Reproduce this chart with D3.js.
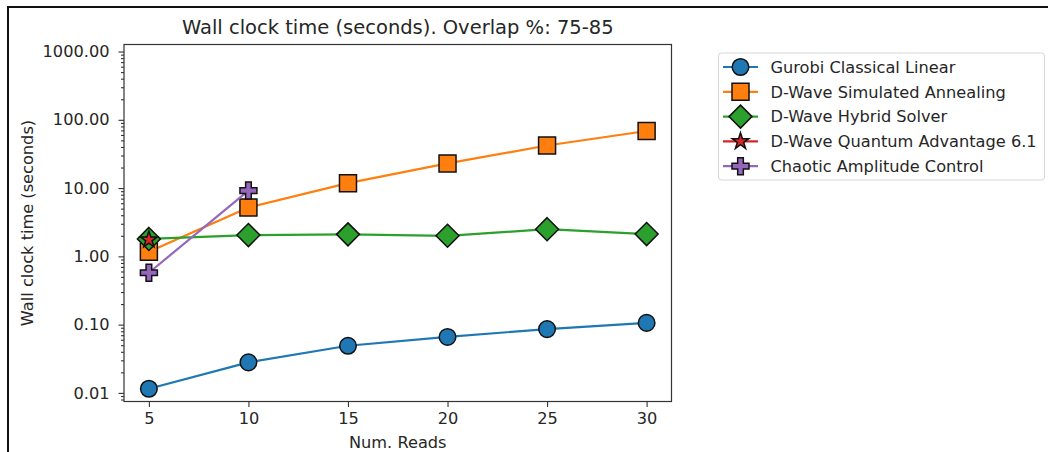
<!DOCTYPE html>
<html>
<head>
<meta charset="utf-8">
<script src="https://cdn.jsdelivr.net/npm/d3@7"></script>
<style>
  html, body { margin: 0; padding: 0; background: #fff; }
  svg { display: block; }
  text { font-family: "DejaVu Sans", sans-serif; fill: #262626; }
</style>
</head>
<body>
<svg id="chart" width="1048" height="452"></svg>
<script>
// Number of reads on the x axis
const reads = [5, 10, 15, 20, 25, 30];

// Wall clock time in seconds for each solver
const gurobi = [0.0115, 0.028, 0.049, 0.066, 0.086, 0.106];
const simAnnealing = [1.17, 5.2, 11.8, 23.0, 42.0, 68.5];
const hybrid = [1.8, 2.05, 2.1, 2.0, 2.5, 2.12];
const quantumReads = [5];
const quantum = [1.75];
const cacReads = [5, 10];
const cac = [0.575, 9.2];

const seriesNames = [
  "Gurobi Classical Linear",
  "D-Wave Simulated Annealing",
  "D-Wave Hybrid Solver",
  "D-Wave Quantum Advantage 6.1",
  "Chaotic Amplitude Control"
];
const seriesColors = ["#1f77b4", "#ff7f0e", "#2ca02c", "#d62728", "#9467bd"];

const xTicks = [5, 10, 15, 20, 25, 30];
const yTicks = [0.01, 0.1, 1, 10, 100, 1000];

const titleText = "Wall clock time (seconds). Overlap %: 75-85";
const xLabel = "Num. Reads";
const yLabel = "Wall clock time (seconds)";

const svg = d3.select("#chart");

// page frame
svg.append("path")
  .attr("d", "M8,452 V7 H1048")
  .attr("fill", "none")
  .attr("stroke", "#111")
  .attr("stroke-width", 2);

const plot = { left: 124, right: 671.5, top: 44.5, bottom: 401.5 };

const x = d3.scaleLinear().domain([3.75, 31.25]).range([plot.left, plot.right]);
const y = d3.scaleLog().domain([Math.pow(10, -2.126), Math.pow(10, 3.103)]).range([plot.bottom, plot.top]);

// minor ticks at 2..9 within each decade
const minorTicks = [];
for (let e = -3; e <= 3; e++) {
  for (let m = 2; m <= 9; m++) {
    const v = m * Math.pow(10, e);
    if (v >= y.domain()[0] && v <= y.domain()[1]) minorTicks.push(v);
  }
}

const axisColor = "#333";
const tickFont = 16.2;

// y axis
const yMinor = svg.append("g")
  .attr("transform", `translate(${plot.left},0)`)
  .call(d3.axisLeft(y).tickValues(minorTicks).tickSize(3).tickFormat(""));
const yMajor = svg.append("g")
  .attr("transform", `translate(${plot.left},0)`)
  .call(d3.axisLeft(y).tickValues(yTicks).tickSize(5.5).tickPadding(9)
    .tickFormat(d => d3.format(".2f")(d)));

// x axis
const xAxis = svg.append("g")
  .attr("transform", `translate(0,${plot.bottom})`)
  .call(d3.axisBottom(x).tickValues(xTicks).tickSize(5.5).tickPadding(5));

[yMinor, yMajor, xAxis].forEach(g => {
  g.select(".domain").remove();
  g.selectAll(".tick line").attr("stroke", axisColor).attr("stroke-width", 1.1);
  g.selectAll(".tick text")
    .attr("font-size", tickFont)
    .attr("font-family", "DejaVu Sans, sans-serif")
    .attr("fill", "#262626");
});

// plot frame
svg.append("rect")
  .attr("x", plot.left).attr("y", plot.top)
  .attr("width", plot.right - plot.left).attr("height", plot.bottom - plot.top)
  .attr("fill", "none").attr("stroke", axisColor).attr("stroke-width", 1.2);

// titles
svg.append("text")
  .attr("x", (plot.left + plot.right) / 2).attr("y", 34)
  .attr("text-anchor", "middle").attr("font-size", 19.5)
  .text(titleText);
svg.append("text")
  .attr("x", (plot.left + plot.right) / 2).attr("y", 448)
  .attr("text-anchor", "middle").attr("font-size", tickFont)
  .text(xLabel);
svg.append("text")
  .attr("transform", `translate(33,${(plot.top + plot.bottom) / 2}) rotate(-90)`)
  .attr("text-anchor", "middle").attr("font-size", tickFont)
  .text(yLabel);

// marker shapes
const diamondPath = (s) => `M0,${-s} L${s},0 L0,${s} L${-s},0 Z`;
const markers = [
  d3.symbol(d3.symbolCircle, 216)(),
  d3.symbol(d3.symbolSquare, 289)(),
  diamondPath(11.5),
  d3.symbol(d3.symbolStar, 85)(),
  d3.symbol(d3.symbolCross, 160)()
];

const seriesData = [
  { xs: reads, ys: gurobi },
  { xs: reads, ys: simAnnealing },
  { xs: reads, ys: hybrid },
  { xs: quantumReads, ys: quantum },
  { xs: cacReads, ys: cac }
];

const line = d3.line().x(d => x(d[0])).y(d => y(d[1]));

const plotArea = svg.append("g");
seriesData.forEach((s, i) => {
  const pts = s.xs.map((v, j) => [v, s.ys[j]]);
  const g = plotArea.append("g");
  g.append("path")
    .attr("d", line(pts))
    .attr("fill", "none")
    .attr("stroke", seriesColors[i])
    .attr("stroke-width", 2.2)
    .attr("stroke-linejoin", "round");
  g.selectAll("path.mk").data(pts).join("path")
    .attr("class", "mk")
    .attr("d", markers[i])
    .attr("transform", d => `translate(${x(d[0])},${y(d[1])})`)
    .attr("fill", seriesColors[i])
    .attr("stroke", "#111")
    .attr("stroke-width", 1.5);
});

// legend
const legend = svg.append("g");
legend.append("rect")
  .attr("x", 718.5).attr("y", 53).attr("width", 326).attr("height", 127)
  .attr("rx", 3).attr("fill", "#fff").attr("fill-opacity", 0.8)
  .attr("stroke", "#d6d6d6").attr("stroke-width", 1);

seriesNames.forEach((name, i) => {
  const cy = 67 + i * 24.8;
  const row = legend.append("g");
  row.append("line")
    .attr("x1", 723).attr("x2", 758).attr("y1", cy).attr("y2", cy)
    .attr("stroke", seriesColors[i]).attr("stroke-width", 2.2);
  row.append("path")
    .attr("d", markers[i])
    .attr("transform", `translate(740.5,${cy})`)
    .attr("fill", seriesColors[i])
    .attr("stroke", "#111").attr("stroke-width", 1.5);
  row.append("text")
    .attr("x", 770.5).attr("y", cy).attr("dy", "0.36em")
    .attr("font-size", tickFont)
    .text(name);
});
</script>
</body>
</html>
